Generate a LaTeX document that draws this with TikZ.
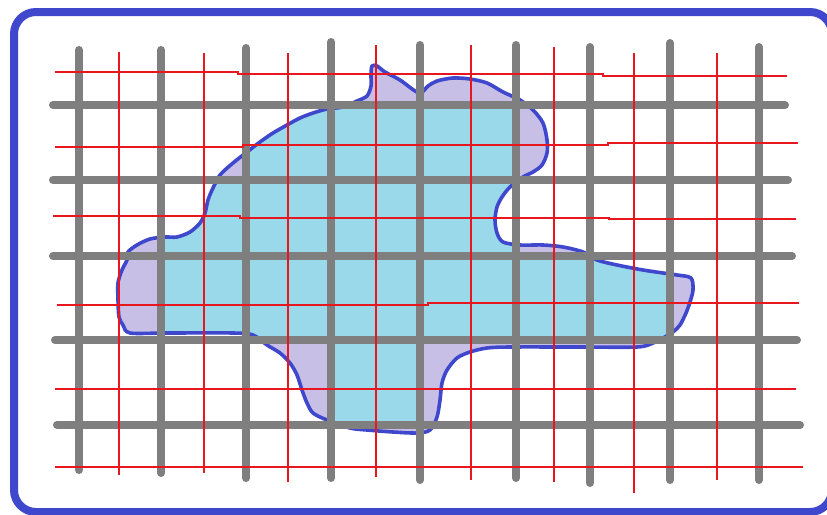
\documentclass[tikz,border=0pt]{standalone}
\definecolor{frameblue}{HTML}{3F48CC}
\definecolor{cellcyan}{HTML}{99D9EA}
\definecolor{blobpurple}{HTML}{C8BFE7}
\definecolor{gridgrey}{HTML}{7F7F7F}
\definecolor{finered}{HTML}{E8161E}
\tikzset{
  framestyle/.style={draw=frameblue,line width=8pt,rounded corners=22pt},
  greyline/.style={draw=gridgrey,line width=8pt,line cap=round},
  redline/.style={draw=finered,line width=1.4pt},
  outline/.style={draw=frameblue,line width=3.6pt,line join=round},
}
\begin{document}
\begin{tikzpicture}[x=1pt,y=-1pt]
\useasboundingbox (0,0) rectangle (827,514);
\fill[white] (0,0) rectangle (827,514);
% blob
\path[save path=\blobpath] plot[smooth cycle,tension=0.5] coordinates {
(128,252) (137,245) (150,239) (165,237) (177,237) (190,232) (200,223) (205,213)
(208,200) (213,188) (220,175) (233,163) (247,152) (260,142) (273,133) (287,125)
(300,118) (313,113) (327,109) (343,107) (357,101) (367,96) (371,86) (371,75)
(372,66) (377,66) (385,72) (400,80) (419,93) (428,86) (437,81) (453,78) (470,79)
(487,83) (503,92) (520,100) (533,110) (543,123) (547,140) (547,153) (542,165)
(533,172) (523,177) (510,187) (502,197) (497,207) (495,220) (497,233) (503,242)
(520,245) (543,245) (563,247) (583,252) (597,260) (617,265) (643,270) (663,273)
(677,275) (691,278) (693,290) (690,302) (686,313) (680,325) (673,332) (663,338)
(653,343) (637,347) (577,347) (510,347) (487,348) (470,352) (457,358) (447,370)
(442,383) (440,400) (437,417) (430,430) (417,433) (393,432) (367,430) (350,428)
(327,420) (313,413) (307,403) (302,390) (297,375) (290,363) (280,353) (267,345)
(253,335) (233,333) (167,333) (130,333) (123,325) (119,317) (118,300) (118,283)
(122,270) (127,260)};
\fill[blobpurple,use path=\blobpath];
\begin{scope}
\clip[use path=\blobpath];
\fill[cellcyan] (246,105) rectangle (516,180);
\fill[cellcyan] (161,180) rectangle (516,256);
\fill[cellcyan] (161,256) rectangle (670,340);
\fill[cellcyan] (331,340) rectangle (420,425);
\end{scope}
\path[outline,use path=\blobpath];
% grey grid
\draw[greyline] (79,50) -- (79,470);
\draw[greyline] (161,50) -- (161,473);
\draw[greyline] (246,48) -- (246,478);
\draw[greyline] (331,42) -- (331,478);
\draw[greyline] (420,45) -- (420,480);
\draw[greyline] (516,45) -- (516,478);
\draw[greyline] (590,47) -- (590,483);
\draw[greyline] (670,43) -- (670,480);
\draw[greyline] (759,47) -- (759,480);
\draw[greyline] (53,105) -- (785,105);
\draw[greyline] (53,180) -- (788,180);
\draw[greyline] (53,256) -- (792,256);
\draw[greyline] (55,340) -- (797,340);
\draw[greyline] (57,425) -- (800,425);
% red grid
\draw[redline] (119,52) -- (119,475);
\draw[redline] (204,53) -- (204,473);
\draw[redline] (288,53) -- (288,482);
\draw[redline] (376,45) -- (376,477);
\draw[redline] (471,45) -- (471,480);
\draw[redline] (554,47) -- (554,482);
\draw[redline] (634,53) -- (634,493);
\draw[redline] (717,53) -- (717,480);
\draw[redline] (55,72) -- (238,72) -- (238,74) -- (603,74) -- (603,76) -- (787,76);
\draw[redline] (55,147) -- (243,147) -- (243,145) -- (608,145) -- (608,143) -- (798,143);
\draw[redline] (53,216) -- (240,216) -- (240,218) -- (609,218) -- (609,219) -- (796,219);
\draw[redline] (57,305) -- (428,305) -- (428,303) -- (799,303);
\draw[redline] (55,389) -- (796,389);
\draw[redline] (55,467) -- (803,467);
% frame
\draw[framestyle] (14,12) rectangle (832,512);
\end{tikzpicture}
\end{document}
